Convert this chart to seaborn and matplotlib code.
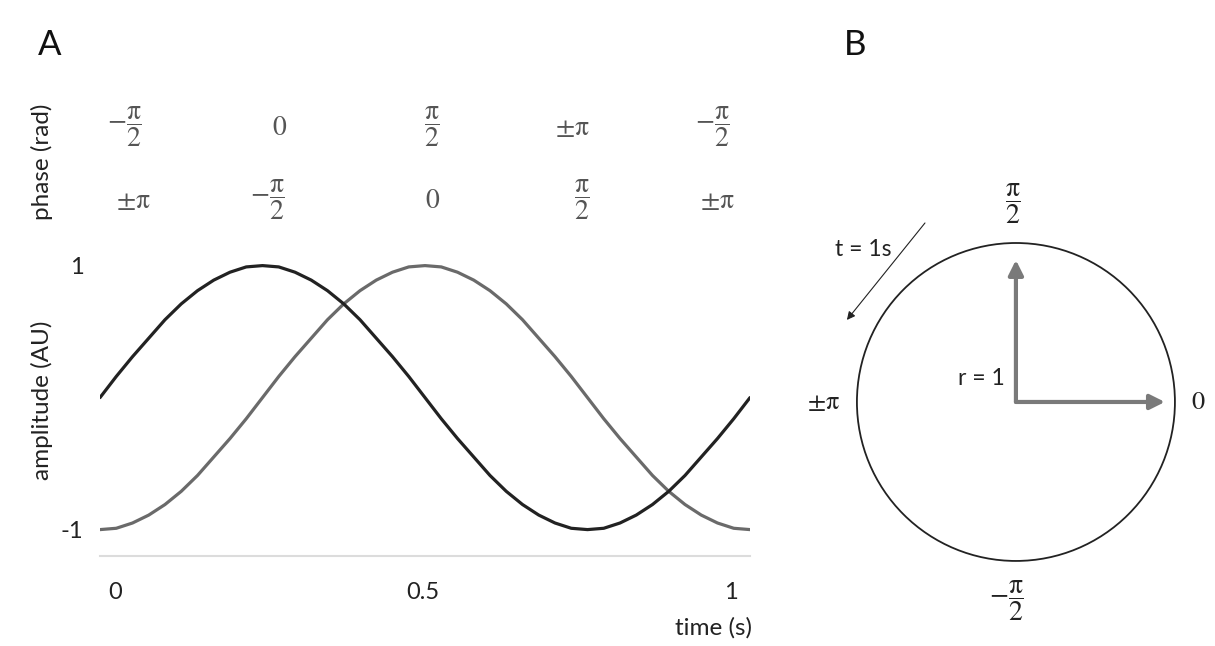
import matplotlib
matplotlib.use('Agg')  # no display
import matplotlib.pyplot as plt
import seaborn as sns
from matplotlib.patches import Circle

# ---- data ----
time_s = [0.0, 0.025, 0.05, 0.075, 0.1, 0.125, 0.15, 0.175, 0.2, 0.225,
          0.25, 0.275, 0.3, 0.325, 0.35, 0.375, 0.4, 0.425, 0.45, 0.475,
          0.5, 0.525, 0.55, 0.575, 0.6, 0.625, 0.65, 0.675, 0.7, 0.725,
          0.75, 0.775, 0.8, 0.825, 0.85, 0.875, 0.9, 0.925, 0.95, 0.975, 1.0]
dark_wave = [0.0, 0.16, 0.31, 0.45, 0.59, 0.71, 0.81, 0.89, 0.95, 0.99,
             1.0, 0.99, 0.95, 0.89, 0.81, 0.71, 0.59, 0.45, 0.31, 0.16,
             0.0, -0.16, -0.31, -0.45, -0.59, -0.71, -0.81, -0.89, -0.95, -0.99,
             -1.0, -0.99, -0.95, -0.89, -0.81, -0.71, -0.59, -0.45, -0.31, -0.16, 0.0]
gray_wave = [-1.0, -0.99, -0.95, -0.89, -0.81, -0.71, -0.59, -0.45, -0.31, -0.16,
             0.0, 0.16, 0.31, 0.45, 0.59, 0.71, 0.81, 0.89, 0.95, 0.99,
             1.0, 0.99, 0.95, 0.89, 0.81, 0.71, 0.59, 0.45, 0.31, 0.16,
             0.0, -0.16, -0.31, -0.45, -0.59, -0.71, -0.81, -0.89, -0.95, -0.99, -1.0]

time_ticklabels = ['0', '0.5', '1']
amp_ticks = [-1, 1]
amp_ticklabels = ['-1', '1']
PI = r'\mathrm{\pi}'
phase_row1 = [r'$-\dfrac{%s}{2}$' % PI, r'$0$', r'$\dfrac{%s}{2}$' % PI,
              r'$\pm%s$' % PI, r'$-\dfrac{%s}{2}$' % PI]
phase_row2 = [r'$\pm%s$' % PI, r'$-\dfrac{%s}{2}$' % PI, r'$0$',
              r'$\dfrac{%s}{2}$' % PI, r'$\pm%s$' % PI]
radius = 1
circle_labels = {'top': r'$\dfrac{%s}{2}$' % PI, 'right': r'$0$',
                 'left': r'$\pm%s$' % PI, 'bottom': r'$-\dfrac{%s}{2}$' % PI}

# ---- layout ----
W, H = 1215, 646
time_tickpos = [0.023, 0.497, 0.97]
row1_pos = [0.037, 0.277, 0.511, 0.726, 0.943]
row2_pos = [0.051, 0.257, 0.511, 0.742, 0.949]


def px_rect(x0, y0, x1, y1):
    return [x0 / W, 1 - y1 / H, (x1 - x0) / W, (y1 - y0) / H]


sns.set_style("white")
plt.rcParams['font.family'] = ['Lato', 'DejaVu Sans']
plt.rcParams['mathtext.fontset'] = 'stix'

fig = plt.figure(figsize=(W / 100, H / 100), dpi=100)

# Panel A
axA = fig.add_axes(px_rect(100, 259, 750, 556))
sns.lineplot(x=time_s, y=gray_wave, color='#6a6a6a', linewidth=2.3, ax=axA)
sns.lineplot(x=time_s, y=dark_wave, color='#222222', linewidth=2.3, ax=axA)
axA.set_xlim(0, 1)
axA.set_ylim(-1.2, 1.05)
for side in ['top', 'left', 'right']:
    axA.spines[side].set_visible(False)
axA.spines['bottom'].set_color('#dcdcdc')
axA.spines['bottom'].set_linewidth(1.5)
axA.set_xticks(time_tickpos)
axA.set_xticklabels(time_ticklabels, fontsize=17, color='#222222')
axA.set_yticks(amp_ticks)
axA.set_yticklabels(amp_ticklabels, fontsize=17, color='#222222')
axA.tick_params(axis='x', length=0, pad=19)
axA.tick_params(axis='y', length=0, pad=12)

y_row1 = (398 - 127) / 132
y_row2 = (398 - 200) / 132
for lab, x in zip(phase_row1, row1_pos):
    axA.text(x, y_row1, lab, ha='center', va='center', fontsize=20,
             color='#555555', clip_on=False)
for lab, x in zip(phase_row2, row2_pos):
    axA.text(x, y_row2, lab, ha='center', va='center', fontsize=20,
             color='#555555', clip_on=False)

fig.text(42 / W, 1 - 162 / H, 'phase (rad)', rotation=90, ha='center',
         va='center', fontsize=17.5, color='#222222')
fig.text(42 / W, 1 - 400 / H, 'amplitude (AU)', rotation=90, ha='center',
         va='center', fontsize=17.5, color='#222222')
fig.text(752 / W, 1 - 628 / H, 'time (s)', ha='right', va='center',
         fontsize=17.5, color='#222222')
fig.text(50 / W, 1 - 45 / H, 'A', ha='center', va='center', fontsize=25,
         color='#111111')
fig.text(855 / W, 1 - 45 / H, 'B', ha='center', va='center', fontsize=25,
         color='#111111')

# Panel B
axB = fig.add_axes(px_rect(800, 150, 1215, 646))
axB.set_xlim(-1.358, 1.252)
axB.set_ylim(-1.535, 1.585)
axB.axis('off')
axB.add_patch(Circle((0, 0), radius, fill=False, color='#222222', lw=1.3))
arrow_kw = dict(arrowstyle='-|>', color='#7a7a7a', lw=3, mutation_scale=22,
                shrinkA=0, shrinkB=0)
axB.annotate('', xy=(0, 0.893 * radius), xytext=(0, 0), arrowprops=arrow_kw)
axB.annotate('', xy=(0.937 * radius, 0), xytext=(0, 0), arrowprops=arrow_kw)
axB.annotate('', xy=(-1.063, 0.516), xytext=(-0.572, 1.126),
             arrowprops=dict(arrowstyle='-|>', color='#222222', lw=0.8,
                             mutation_scale=12, shrinkA=0, shrinkB=0))

axB.text(-0.02, 1.25, circle_labels['top'], ha='center', va='center', fontsize=20, color='#222222')
axB.text(1.145, 0, circle_labels['right'], ha='center', va='center', fontsize=19, color='#222222')
axB.text(-1.21, 0, circle_labels['left'], ha='center', va='center', fontsize=19, color='#222222')
axB.text(-0.06, -1.25, circle_labels['bottom'], ha='center', va='center', fontsize=20, color='#222222')
axB.text(-0.07, 0.15, 'r = 1', ha='right', va='center', fontsize=16.5, color='#222222')
axB.text(-0.96, 0.96, 't = 1s', ha='center', va='center', fontsize=16.5, color='#222222')

fig.savefig('out.png', dpi=100, facecolor='white')
